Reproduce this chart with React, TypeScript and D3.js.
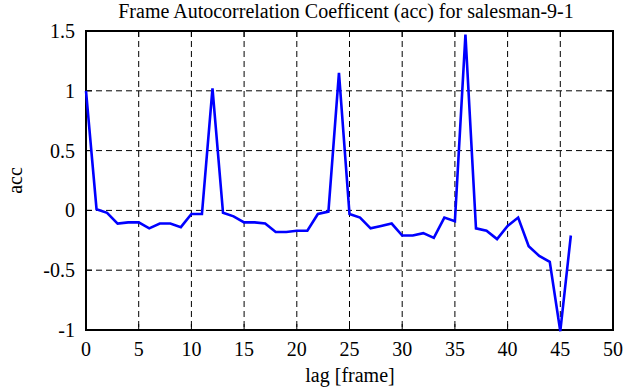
import React from "react";
import * as d3 from "d3";

const lags: number[] = Array.from({ length: 47 }, (_, i) => i);
const accValues: number[] = [
  1.0, 0.01, -0.02, -0.11, -0.1, -0.1, -0.15, -0.11, -0.11, -0.14,
  -0.03, -0.03, 1.02, -0.02, -0.05, -0.1, -0.1, -0.11, -0.18, -0.18,
  -0.17, -0.17, -0.03, -0.01, 1.15, -0.03, -0.06, -0.15, -0.13, -0.11,
  -0.21, -0.21, -0.19, -0.23, -0.06, -0.09, 1.47, -0.15, -0.17, -0.24,
  -0.13, -0.06, -0.3, -0.38, -0.43, -1.01, -0.21,
];
const xTicks: number[] = [0, 5, 10, 15, 20, 25, 30, 35, 40, 45, 50];
const yTicks: number[] = [-1, -0.5, 0, 0.5, 1, 1.5];
const title = "Frame Autocorrelation Coefficent (acc) for salesman-9-1";
const xLabel = "lag [frame]";
const yLabel = "acc";

const FONT = "Liberation Serif, DejaVu Serif, serif";

export default function App() {
  const W = 635, H = 387;
  const left = 86, right = 613, top = 31, bottom = 330;
  const x = d3.scaleLinear().domain([0, 50]).range([left, right]);
  const y = d3.scaleLinear().domain([-1, 1.5]).range([bottom, top]);
  const line = d3
    .line<number>()
    .x((_, i) => x(lags[i]))
    .y((d) => y(d));
  const fs = 20;
  const tl = 6;
  const ts: React.CSSProperties = { fontFamily: FONT, fontSize: fs };
  return (
    <svg
      width={W}
      height={H}
      style={{ position: "absolute", left: 0, top: 0, background: "#fff" }}
    >
      <rect x={0} y={0} width={W} height={H} fill="#fff" />
      {xTicks.slice(1, -1).map((t) => (
        <line key={"gx" + t} x1={x(t)} x2={x(t)} y1={top} y2={bottom} stroke="#000" strokeWidth={1} strokeDasharray="6,4" />
      ))}
      {yTicks.slice(1, -1).map((t) => (
        <line key={"gy" + t} x1={left} x2={right} y1={y(t)} y2={y(t)} stroke="#000" strokeWidth={1} strokeDasharray="6,4" />
      ))}
      {xTicks.map((t) => (
        <g key={"tx" + t}>
          <line x1={x(t)} x2={x(t)} y1={bottom} y2={bottom - tl} stroke="#000" strokeWidth={1} />
          <line x1={x(t)} x2={x(t)} y1={top} y2={top + tl} stroke="#000" strokeWidth={1} />
          <text x={x(t)} y={356} style={ts} textAnchor="middle" fill="#000">{t}</text>
        </g>
      ))}
      {yTicks.map((t) => (
        <g key={"ty" + t}>
          <line x1={left} x2={left + tl} y1={y(t)} y2={y(t)} stroke="#000" strokeWidth={1} />
          <line x1={right} x2={right - tl} y1={y(t)} y2={y(t)} stroke="#000" strokeWidth={1} />
          <text x={75} y={y(t) + 7} style={ts} textAnchor="end" fill="#000">{t}</text>
        </g>
      ))}
      <rect x={left} y={top} width={right - left} height={bottom - top} fill="none" stroke="#000" strokeWidth={2} />
      <path d={line(accValues) || ""} fill="none" stroke="#0000ff" strokeWidth={2.6} strokeLinejoin="miter" />
      <text x={346} y={18} style={ts} textAnchor="middle" fill="#000">{title}</text>
      <text x={350} y={382} style={ts} textAnchor="middle" fill="#000">{xLabel}</text>
      <text transform={`translate(22, ${(top + bottom) / 2}) rotate(-90)`} style={ts} textAnchor="middle" fill="#000">{yLabel}</text>
    </svg>
  );
}
